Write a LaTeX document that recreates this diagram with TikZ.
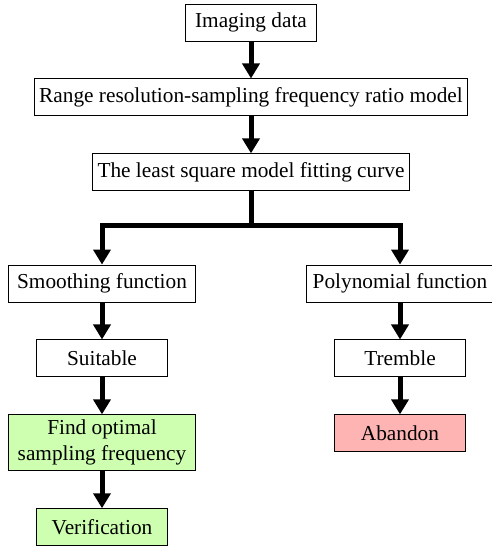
\documentclass[tikz,border=0pt]{standalone}
\usepackage{fontspec}
\setmainfont{Liberation Serif}
\usetikzlibrary{arrows.meta, positioning}
\definecolor{okgreen}{RGB}{206,255,176}
\definecolor{nopink}{RGB}{255,180,180}

\begin{document}
\begin{tikzpicture}[x=1pt, y=1pt, node distance=37pt,
                box/.style={draw, line width=0.9pt, fill=white, align=center,
                    font=\fontsize{21.3}{26}\selectfont, inner xsep=5pt, inner ysep=2pt,
                    minimum width=131pt, minimum height=37pt},
                okbox/.style={box, fill=okgreen},
                nobox/.style={box, fill=nopink},
                arr/.style={-{Triangle[width=17pt, length=15pt]}, line width=5pt, line join=miter}]
                \useasboundingbox (0,0) rectangle (491,-548);
                \node[box] (data) at (251,-22.5) {Imaging data};
                \node[box, below=of data] (ratio) {Range resolution-sampling frequency ratio model};
                \node[box, below=of ratio] (fit) {The least square model fitting curve};
                \node[box, minimum width=187pt] (smooth) at (102,-283.5) {Smoothing function};
                \node[box, minimum width=187pt] (poly) at (400,-283.5) {Polynomial function};
                \node[box, below=of smooth] (suit) {Suitable};
                \node[box, below=of poly] (tremble) {Tremble};
                \node[okbox, minimum width=187pt, minimum height=56pt, below=of suit] (optimal) {Find optimal\\sampling frequency};
                \node[okbox, below=of optimal] (verify) {Verification};
                \node[nobox, below=of tremble] (abandon) {Abandon};
                \draw[arr] (data) -- (ratio);
                \draw[arr] (ratio) -- (fit);
                \draw[arr] (fit.south) -- ++(0,-34) -| (smooth.north);
                \draw[arr] (fit.south) -- ++(0,-34) -| (poly.north);
                \draw[arr] (smooth) -- (suit);
                \draw[arr] (suit) -- (optimal);
                \draw[arr] (optimal) -- (verify);
                \draw[arr] (poly) -- (tremble);
                \draw[arr] (tremble) -- (abandon);
            \end{tikzpicture}
\end{document}
